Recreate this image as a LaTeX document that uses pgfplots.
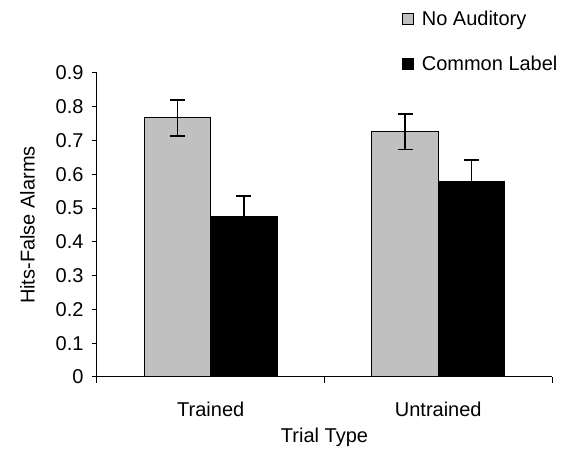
\documentclass[border=0pt]{standalone}
\usepackage{pgfplots}
\pgfplotsset{compat=1.18}
\usepackage{fontspec}
\setmainfont{Liberation Sans}
\usetikzlibrary{calc}
\definecolor{lg}{HTML}{C0C0C0}
\newcommand\fs{\fontsize{20bp}{24bp}\selectfont}
\begin{document}
\begin{tikzpicture}
\begin{axis}[
  name=ax,
  scale only axis, width=455bp, height=304bp,
  xmin=0.5, xmax=2.5, ymin=0, ymax=0.9,
  axis x line*=bottom, axis y line*=left,
  axis line style={line width=1bp, black},
  ybar=0pt, bar width=0.292,
  xtick={1,2}, xticklabels={Trained,Untrained},
  major x tick style={draw=none},
  minor xtick={0.5,1.5,2.5},
  ytick={0,0.1,0.2,0.3,0.4,0.5,0.6,0.7,0.8,0.9},
  tick align=outside, major tick length=5bp, minor tick length=6bp,
  tick style={black, line width=1bp},
  /pgf/number format/.cd, fixed, precision=1, assume math mode=true, /pgfplots/.cd,
  tick label style={font=\fs},
  yticklabel style={xshift=-5bp},
  xticklabel style={yshift=-16bp},
  xlabel={Trial Type}, ylabel={Hits-False Alarms},
  label style={font=\fs},
  xlabel style={yshift=-5bp},
  ylabel style={yshift=14bp},
  legend image code/.code={\draw[#1, draw=black, line width=0.8bp] (0bp,-5.5bp) rectangle (11bp,5.5bp);},
  legend style={draw=none, fill=none, font=\fs, at={(rel axis cs:0.67,1.21)}, anchor=north west, row sep=25bp, inner sep=0pt,
    /tikz/every odd column/.append style={column sep=6bp}},
  legend cell align=left,
]
\addplot[fill=lg, draw=black, line width=1bp,
  error bars/.cd, y dir=both, y explicit,
  error bar style={line width=1.6bp, black},
  error mark options={rotate=90, mark size=7.5bp, line width=1.6bp, black}]
  coordinates {(1,0.767) +- (0,0.053) (2,0.726) +- (0,0.053)};
\addplot[fill=black, draw=black, line width=1bp,
  error bars/.cd, y dir=both, y explicit,
  error bar style={line width=1.6bp, black},
  error mark options={rotate=90, mark size=7.5bp, line width=1.6bp, black}]
  coordinates {(1,0.474) +- (0,0.062) (2,0.580) +- (0,0.062)};
\legend{No Auditory, Common Label}
\end{axis}
\useasboundingbox ($(ax.south west)+(-97bp,-70bp)$) rectangle ($(ax.north east)+(18bp,73bp)$);
\end{tikzpicture}
\end{document}
